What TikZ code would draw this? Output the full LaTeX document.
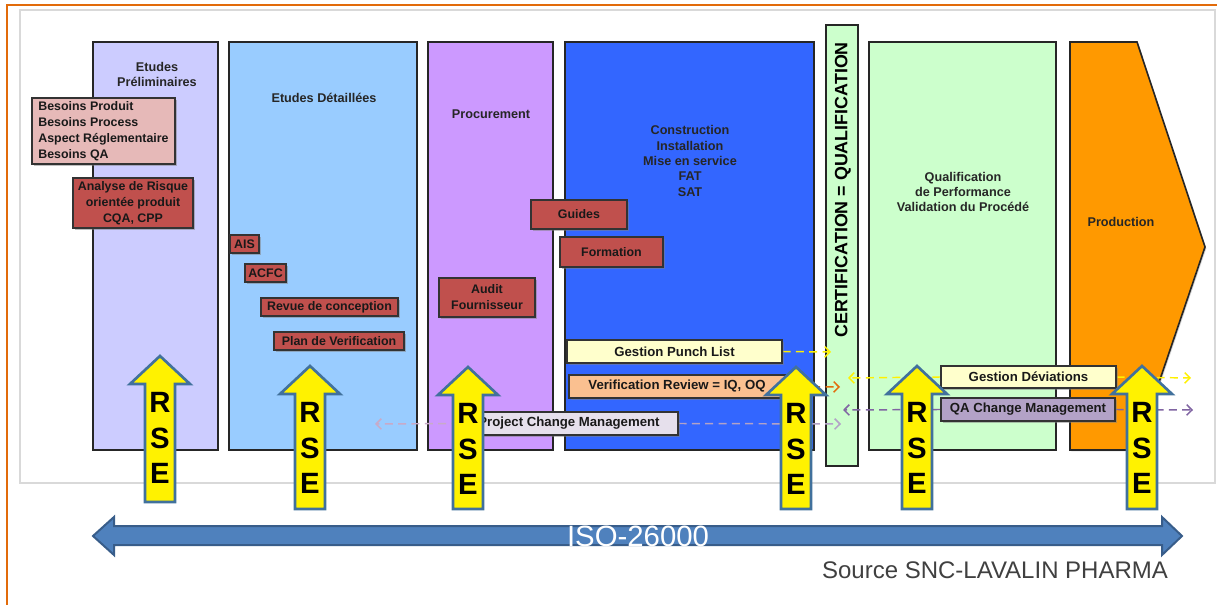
\documentclass[tikz,border=0pt]{standalone}
\usepackage{fontspec}
\setmainfont{Liberation Sans}
\usepackage{xcolor}
\usetikzlibrary{arrows.meta}
\usetikzlibrary{positioning}
\usetikzlibrary{shadows}
\definecolor{framered}{RGB}{226,107,10}
\definecolor{prelav}{RGB}{204,204,255}
\definecolor{detblue}{RGB}{153,204,255}
\definecolor{procpurp}{RGB}{204,153,255}
\definecolor{constblue}{RGB}{51,102,255}
\definecolor{qualgreen}{RGB}{204,255,204}
\definecolor{prodorange}{RGB}{255,153,0}
\definecolor{taskred}{RGB}{192,80,77}
\definecolor{needpink}{RGB}{230,185,184}
\definecolor{cream}{RGB}{255,255,204}
\definecolor{peach}{RGB}{250,192,144}
\definecolor{lilac}{RGB}{230,224,236}
\definecolor{qapurp}{RGB}{179,162,199}
\definecolor{pinklilac}{RGB}{200,170,200}
\definecolor{darkpurp}{RGB}{128,100,162}
\definecolor{punchyellow}{RGB}{255,240,0}
\definecolor{rseblue}{RGB}{65,113,156}
\definecolor{isoblue}{RGB}{79,129,189}
\definecolor{isoedge}{RGB}{56,93,138}
\pgfdeclarelayer{bg}
\pgfdeclarelayer{links}
\pgfsetlayers{bg,links,main}

\begin{document}
\begin{tikzpicture}[x=0.75pt,y=-0.75pt,
  box/.style 2 args={minimum width=#1*0.75pt,minimum height=#2*0.75pt},
  phase/.style={draw=black!85,line width=1.2pt,inner sep=0pt,
    drop shadow={shadow xshift=1pt,shadow yshift=-1pt,opacity=.35}},
  lbl/.style={font=\bfseries\fontsize{9.5}{11.6}\selectfont,text=black!85,align=center},
  task/.style={draw=black!80,line width=0.8pt,fill=taskred,inner sep=0pt,
    font=\bfseries\fontsize{9.3}{12}\selectfont,text=black!90,align=center,
    drop shadow={shadow xshift=1.2pt,shadow yshift=-1.2pt,opacity=.5}},
  followup/.style={task,font=\bfseries\fontsize{9.9}{12}\selectfont},
  flow/.style={dashed,dash pattern=on 6pt off 4pt,line width=1.1pt,
    -{Straight Barb[length=4pt,width=8pt]}},
  rse/.style={fill=yellow,draw=rseblue,line width=2pt,line join=miter},
  rseletters/.style={font=\bfseries\fontsize{22}{26.5}\selectfont,align=center,inner sep=0pt}]
\useasboundingbox (0,0) rectangle (1217,605);

% frame
\draw[framered,line width=1.5pt] (7,605) -- (7,5) -- (1217,5);
\draw[black!15,line width=1pt] (20,10) rectangle (1215,483);

% phases
\begin{pgfonlayer}{bg}
\node[phase,fill=prelav,box={125}{408}] (pre) at (155.5,246) {};
\node[phase,fill=detblue,box={188}{408}] (det) at (323,246) {};
\node[phase,fill=procpurp,box={125}{408}] (proc) at (490.5,246) {};
\node[phase,fill=constblue,box={249}{408}] (const) at (689.5,246) {};
\node[phase,fill=qualgreen,box={32}{441}] (cert) at (842,245.5) {};
\node[phase,fill=qualgreen,box={187}{408}] (qual) at (962.5,246) {};
\draw[phase,fill=prodorange] (1070,42) -- (1137,42) -- (1205,247) -- (1136,450) -- (1070,450) -- cycle;
\end{pgfonlayer}

\node[lbl] (preLbl) at (157,74.5) {Etudes\\Préliminaires};
\node[lbl] (detLbl) at (324,98) {Etudes Détaillées};
\node[lbl] (procLbl) at (491,114) {Procurement};
\node[lbl] (constLbl) at (690,161) {Construction\\Installation\\Mise en service\\FAT\\SAT};
\node[lbl] (qualLbl) at (963,192) {Qualification\\de Performance\\Validation du Procédé};
\node[lbl] (prodLbl) at (1121,222) {Production};
\node[rotate=90,font=\bfseries\fontsize{13.4}{13.4}\selectfont] (certLbl) at (843,190) {CERTIFICATION = QUALIFICATION};

% tasks
\node[task,fill=needpink,align=left,box={143}{66}] (needs) at (103.5,131) {Besoins Produit\\Besoins Process\\Aspect Réglementaire\\Besoins QA};
\node[task,box={120}{50}] (risk) at (133,203) {Analyse de Risque\\orientée produit\\CQA, CPP};
\node[task,box={29}{18}] (ais) at (244.5,244) {AIS};
\node[task,box={41}{18}] (acfc) at (265.5,273) {ACFC};
\node[task,box={137}{18}] (revue) at (329.5,307) {Revue de conception};
\node[task,box={130}{18}] (plan) at (339,341) {Plan de Verification};
\node[task,box={96}{29}] (guides) at (579,214.5) {Guides};
\node[task,box={103}{30}] (form) at (611.5,252) {Formation};
\node[task,box={96}{39}] (audit) at (487,297.5) {Audit\\Fournisseur};

% follow-up
\node[followup,fill=cream,box={215}{23}] (punch) at (674.5,351.5) {Gestion Punch List};
\node[followup,fill=peach,box={216}{23}] (verif) at (677,386.5) {Verification Review = IQ, OQ};
\node[followup,fill=lilac,box={218}{23}] (pcm) at (569,423.5) {Project Change Management};
\node[followup,fill=cream,box={175}{22}] (dev) at (1028.5,377) {Gestion Déviations};
\node[followup,fill=qapurp,box={174}{23}] (qacm) at (1028,409.5) {QA Change Management};

\coordinate (punchEnd) at (831,352);
\coordinate (verifEnd) at (840,387);
\coordinate (pcmL) at (375,424);
\coordinate (pcmR) at (841,424);
\coordinate (devL) at (848,378);
\coordinate (devR) at (1191,378);
\coordinate (qaL) at (843,410);
\coordinate (qaR) at (1193,410);

\begin{pgfonlayer}{links}
\draw[flow,punchyellow] (punch.east) -- (punchEnd);
\draw[flow,framered] (verif.east) -- (verifEnd);
\draw[flow,pinklilac] (pcm.west) -- (pcmL);
\draw[flow,qapurp] (pcm.east) -- (pcmR);
\draw[flow,punchyellow] (dev.west) -- (devL);
\draw[flow,punchyellow] (dev.east) -- (devR);
\draw[flow,darkpurp] (qacm.west) -- (qaL);
\draw[flow,darkpurp] (qacm.east) -- (qaR);
\end{pgfonlayer}

% RSE arrows
\foreach \px/\ty/\by [count=\i] in {160/356/502, 310/366/509, 468/367/509, 796/367/509, 917/366/509, 1142/366/509}
{
  \draw[rse] (\px-15,\by) -- (\px-15,\ty+28) -- (\px-30,\ty+28) -- (\px,\ty) -- (\px+30,\ty+28) -- (\px+15,\ty+28) -- (\px+15,\by) -- cycle;
  \node[rseletters] (rse\i) at (\px,\ty+82) {R\\S\\E};
}

% ISO band
\draw[fill=isoblue,draw=isoedge,line width=1.5pt] (93,536) -- (114,517) -- (114,526) -- (1162,526) -- (1162,517) -- (1182,536) -- (1162,555) -- (1162,545) -- (114,545) -- (114,555) -- cycle;
\node[text=white,font=\fontsize{22}{22}\selectfont] (iso) at (638,536) {ISO-26000};
\node[text=black!75,font=\fontsize{18}{18}\selectfont] (src) at (995,570) {Source SNC-LAVALIN PHARMA};
\end{tikzpicture}
\end{document}
